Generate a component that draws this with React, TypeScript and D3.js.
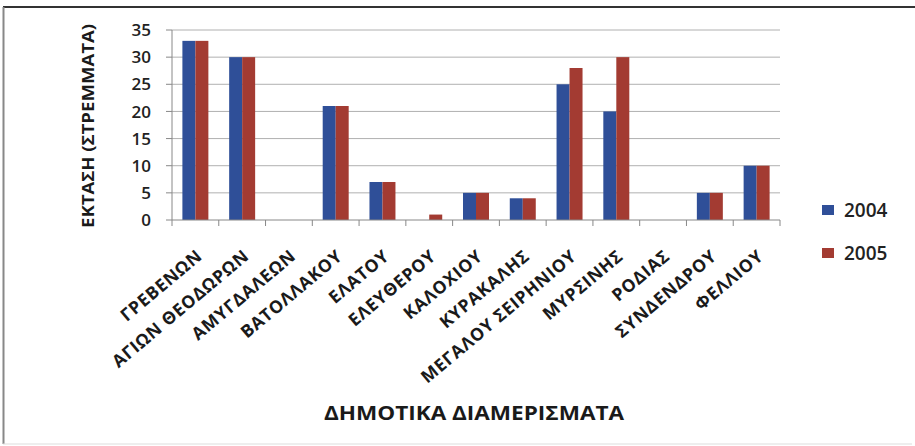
import React from "react";
import * as d3 from "d3";

const categories = [
  "ΓΡΕΒΕΝΩΝ",
  "ΑΓΙΩΝ ΘΕΟΔΩΡΩΝ",
  "ΑΜΥΓΔΑΛΕΩΝ",
  "ΒΑΤΟΛΛΑΚΟΥ",
  "ΕΛΑΤΟΥ",
  "ΕΛΕΥΘΕΡΟΥ",
  "ΚΑΛΟΧΙΟΥ",
  "ΚΥΡΑΚΑΛΗΣ",
  "ΜΕΓΑΛΟΥ ΣΕΙΡΗΝΙΟΥ",
  "ΜΥΡΣΙΝΗΣ",
  "ΡΟΔΙΑΣ",
  "ΣΥΝΔΕΝΔΡΟΥ",
  "ΦΕΛΛΙΟΥ",
];
const values2004 = [33, 30, 0, 21, 7, 0, 5, 4, 25, 20, 0, 5, 10];
const values2005 = [33, 30, 0, 21, 7, 1, 5, 4, 28, 30, 0, 5, 10];
const seriesNames = ["2004", "2005"];
const yTicks = [0, 5, 10, 15, 20, 25, 30, 35];
const colors = ["#2f4f98", "#a33b32"];

const FONT = "'Open Sans', 'Noto Sans', sans-serif";

export default function App() {
  const W = 915, H = 446;
  const left = 172, right = 780, top = 30, bottom = 220;
  const x = d3.scaleBand<string>().domain(categories).range([left, right]);
  const y = d3.scaleLinear().domain([0, 35]).range([bottom, top]);
  const inner = d3.scaleBand<string>().domain(seriesNames).range([0, x.bandwidth()]).paddingInner(0).paddingOuter(0.8);
  const series = [values2004, values2005];

  return (
    <svg width={W} height={H} style={{ position: "absolute", left: 0, top: 0, background: "#fff" }}>
      <rect x={0} y={0} width={W} height={H} fill="#fff" />
      <line x1={3} x2={915} y1={7} y2={7} stroke="#333" strokeWidth={2} />
      <line x1={3.5} x2={3.5} y1={7} y2={444} stroke="#888" strokeWidth={2} />
      <line x1={3} x2={912} y1={444} y2={444} stroke="#ddd" strokeWidth={1} />
      {yTicks.map((t) => (
        <g key={t}>
          {t > 0 && <line x1={left} x2={right} y1={y(t)} y2={y(t)} stroke="#b0b0b0" strokeWidth={1} />}
          <line x1={left - 6} x2={left} y1={y(t)} y2={y(t)} stroke="#888" />
          <text x={left - 21} y={y(t)} dy="0.36em" textAnchor="end" fontFamily={FONT} fontWeight={600} fontSize={17} fill="#222">{t}</text>
        </g>
      ))}
      {categories.map((c, i) =>
        series.map((vals, s) => (
          <rect
            key={c + s}
            x={x(c)! + inner(seriesNames[s])!}
            y={y(vals[i])}
            width={inner.bandwidth()}
            height={bottom - y(vals[i])}
            fill={colors[s]}
          />
        ))
      )}
      <line x1={left} x2={left} y1={top} y2={bottom} stroke="#888" />
      <line x1={left} x2={right} y1={bottom} y2={bottom} stroke="#888" />
      {[...categories.map((c) => x(c)!), right].map((px, i) => (
        <line key={i} x1={px} x2={px} y1={bottom} y2={bottom + 6} stroke="#888" />
      ))}
      {categories.map((c) => {
        const cx = x(c)! + x.bandwidth() / 2 + 8;
        const cy = bottom + 38;
        return (
          <text key={c} x={cx} y={cy} transform={`rotate(-40 ${cx} ${cy})`} textAnchor="end" fontFamily={FONT} fontWeight={700} fontSize={17.5} letterSpacing={0.7} fill="#1a1a1a">{c}</text>
        );
      })}
      <text x={474} y={420} textAnchor="middle" fontFamily={FONT} fontWeight={700} fontSize={19.5} textLength={300} lengthAdjust="spacingAndGlyphs" fill="#1a1a1a">ΔΗΜΟΤΙΚΑ ΔΙΑΜΕΡΙΣΜΑΤΑ</text>
      <text transform={`translate(94 126) rotate(-90)`} textAnchor="middle" fontFamily={FONT} fontWeight={700} fontSize={16} textLength={204} lengthAdjust="spacingAndGlyphs" fill="#1a1a1a">ΕΚΤΑΣΗ (ΣΤΡΕΜΜΑΤΑ)</text>
      {seriesNames.map((n, i) => (
        <g key={n} transform={`translate(822 ${210 + i * 43})`}>
          <rect x={0} y={-5} width={12} height={10} fill={colors[i]} />
          <text x={22} y={0} dy="0.36em" fontFamily={FONT} fontWeight={600} fontSize={19} fill="#222">{n}</text>
        </g>
      ))}
    </svg>
  );
}
